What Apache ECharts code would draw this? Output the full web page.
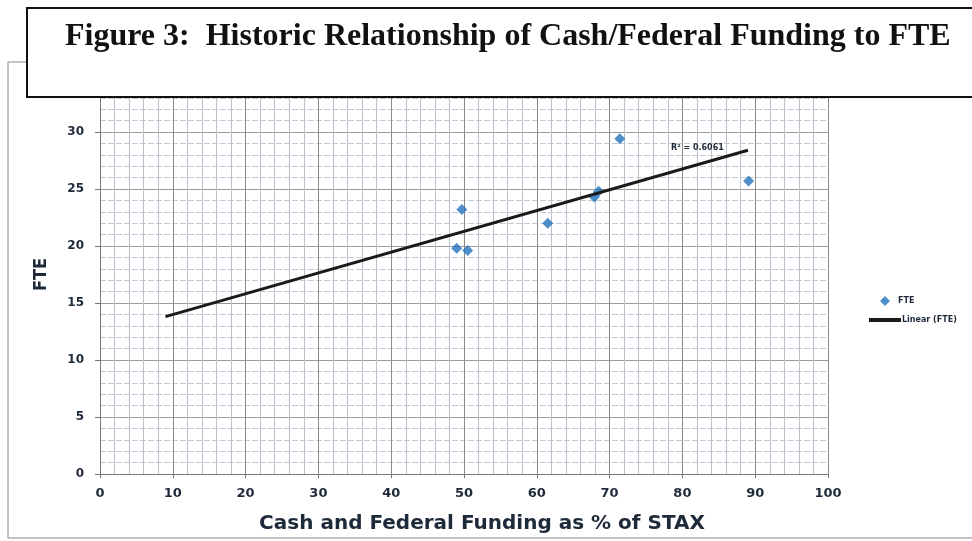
<!DOCTYPE html>
<html>
<head>
<meta charset="utf-8">
<script src="https://cdn.jsdelivr.net/npm/echarts@6/dist/echarts.min.js"></script>
<style>
  html, body { margin: 0; padding: 0; background: #fff; }
  #chart { width: 972px; height: 541px; }
</style>
</head>
<body>
<div id="chart"></div>
<script>
// funding share (% of STAX) and FTE
var fundingPct = [49.0, 50.5, 49.7, 61.5, 67.9, 68.5, 71.4, 89.1];
var fteValues  = [19.8, 19.6, 23.2, 22.0, 24.3, 24.8, 29.4, 25.7];
// ends of the linear trend line as drawn
var trendX = [9, 89];
var trendY = [13.8, 28.4];
var rSquared = '0.6061';

var pts = fundingPct.map(function (x, i) { return [x, fteValues[i]]; });
var trend = trendX.map(function (x, i) { return [x, trendY[i]]; });

var myChart = echarts.init(document.getElementById('chart'));

var labelFont = {
  color: '#1e2a3a',
  fontFamily: 'DejaVu Sans',
  fontWeight: 'bold',
  fontSize: 12
};
var legendText = { fontSize: 8, fontWeight: 'bold', color: '#1e2a3a', fontFamily: 'DejaVu Sans' };

var option = {
  animation: false,
  backgroundColor: '#fff',
  grid: { left: 100, right: 144, top: 75, bottom: 67 },
  legend: [
    {
      left: 875,
      top: 291,
      itemWidth: 10,
      itemHeight: 10,
      textStyle: Object.assign({ padding: [0, 0, 0, 3] }, legendText),
      data: [{ name: 'FTE', icon: 'diamond' }]
    },
    {
      left: 864,
      top: 311,
      itemWidth: 32,
      itemHeight: 4,
      textStyle: Object.assign({ padding: [0, 0, 0, -4] }, legendText),
      data: [{ name: 'Linear (FTE)', icon: 'rect' }]
    }
  ],
  xAxis: {
    type: 'value',
    min: 0, max: 100, interval: 10,
    name: 'Cash and Federal Funding as % of STAX',
    nameLocation: 'middle',
    nameGap: 40,
    nameTextStyle: { color: '#1e2a3a', fontFamily: 'DejaVu Sans', fontWeight: 'bold', fontSize: 20, padding: [0, 0, 0, 36] },
    axisLine: { show: true, lineStyle: { color: '#777', width: 1 } },
    axisTick: { show: true, length: 4, lineStyle: { color: '#777' } },
    axisLabel: Object.assign({ margin: 13 }, labelFont, { fontSize: 13 }),
    splitLine: { show: true, lineStyle: { color: '#8a8a8a', width: 1 } },
    minorTick: { show: false, splitNumber: 5 },
    minorSplitLine: { show: true, lineStyle: { color: '#b8c2cc', width: 1 } }
  },
  yAxis: {
    type: 'value',
    min: 0, max: 35, interval: 5,
    name: 'FTE',
    nameLocation: 'middle',
    nameGap: 50,
    nameTextStyle: { color: '#1e2a3a', fontFamily: 'DejaVu Sans Condensed, DejaVu Sans', fontWeight: 'bold', fontSize: 18 },
    axisLine: { show: true, lineStyle: { color: '#777', width: 1 } },
    axisTick: { show: true, length: 5, lineStyle: { color: '#777' } },
    axisLabel: Object.assign({ margin: 16 }, labelFont),
    splitLine: { show: true, lineStyle: { color: '#9a9a9a', width: 1 } },
    minorTick: { show: false, splitNumber: 5 },
    minorSplitLine: { show: true, lineStyle: { color: '#c3cad2', width: 1, type: [6, 2] } }
  },
  series: [
    {
      name: 'FTE',
      type: 'scatter',
      symbol: 'diamond',
      symbolSize: 11,
      itemStyle: { color: '#2273bd' },
      data: pts,
      z: 3
    },
    {
      name: 'Linear (FTE)',
      type: 'line',
      symbol: 'none',
      lineStyle: { color: '#1a1a1a', width: 3 },
      itemStyle: { color: '#1a1a1a' },
      data: trend,
      z: 4
    }
  ],
  graphic: [
    {
      type: 'rect',
      shape: { x: 8, y: 62, width: 972, height: 476 },
      style: { fill: 'none', stroke: '#888', lineWidth: 1 },
      z: 1
    },
    {
      type: 'rect',
      shape: { x: 27, y: 8, width: 960, height: 89 },
      style: { fill: '#fff', stroke: '#111', lineWidth: 2 },
      z: 100
    },
    {
      type: 'text',
      left: 65,
      top: 21,
      z: 101,
      style: {
        text: 'Figure 3:  Historic Relationship of Cash/Federal Funding to FTE',
        fontFamily: 'Liberation Serif',
        fontWeight: 'bold',
        fontSize: 32,
        fill: '#111'
      }
    },
    {
      type: 'text',
      left: 671,
      top: 144,
      z: 101,
      style: {
        text: 'R² = ' + rSquared,
        fontFamily: 'DejaVu Sans',
        fontWeight: 'bold',
        fontSize: 8,
        fill: '#1e2a3a'
      }
    }
  ]
};

myChart.setOption(option);
</script>
</body>
</html>
